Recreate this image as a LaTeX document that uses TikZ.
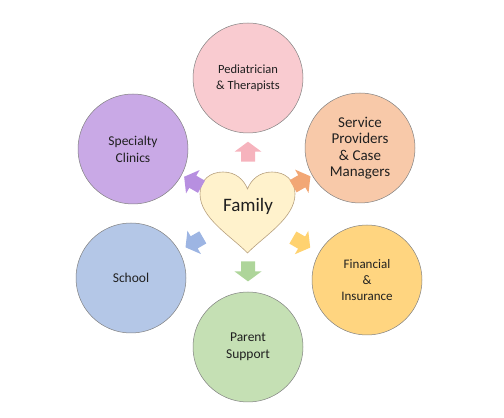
\documentclass[tikz,border=0pt]{standalone}
\usepackage{fontspec}
\setmainfont{Carlito}
\usetikzlibrary{calc,positioning}
\definecolor{pedfill}{HTML}{F9CBD0}
\definecolor{pedarrow}{HTML}{F6B3BD}
\definecolor{servfill}{HTML}{F8C9A9}
\definecolor{servarrow}{HTML}{F2A775}
\definecolor{finfill}{HTML}{FFD580}
\definecolor{finarrow}{HTML}{FFD270}
\definecolor{parfill}{HTML}{C5E0B4}
\definecolor{pararrow}{HTML}{AED59A}
\definecolor{schfill}{HTML}{B4C7E7}
\definecolor{scharrow}{HTML}{9DB5E3}
\definecolor{specfill}{HTML}{C9A9E6}
\definecolor{specarrow}{HTML}{B78FE0}
\definecolor{heartfill}{HTML}{FFF2CC}
\definecolor{heartline}{HTML}{B7A07E}
\definecolor{txt}{HTML}{202020}

\tikzset{
  blockarrow/.pic={\path[pic actions] (-10,-7) -- (0,-7) -- (0,-13.5) -- (10,0) -- (0,13.5) -- (0,7) -- (-10,7) -- cycle;},
}

\begin{document}
\begin{tikzpicture}[x=1pt,y=1pt,
  ring/.style={circle,minimum size=110pt,inner sep=0pt,draw=black!50,line width=0.5pt,
    align=center,text=txt,font=\fontsize{13.5}{17}\selectfont}]
  \useasboundingbox (0,0) rectangle (504,418);
  \coordinate (C) at (248,206);
  % heart in the middle
  \draw[fill=heartfill,draw=heartline,line width=0.6pt]
    (247.5,165) .. controls (231,182) and (200,200) .. (200,224)
    .. controls (200,238) and (210,246) .. (223,246)
    .. controls (236,246) and (244,238) .. (247.5,229)
    .. controls (251,238) and (259,246) .. (272,246)
    .. controls (285,246) and (295,238) .. (295,224)
    .. controls (295,200) and (264,182) .. (247.5,165) -- cycle;
  \node[text=txt,font=\fontsize{19}{22}\selectfont] (family) at (248,212) {Family};
  % the six circles
  \node[ring,fill=pedfill,font=\fontsize{12.5}{16.5}\selectfont] (ped) at (248,340) {Pediatrician\\\& Therapists};
  \node[ring,fill=servfill,font=\fontsize{15}{16.5}\selectfont] (serv) at (360,270) {Service\\Providers\\\& Case\\Managers};
  \node[ring,fill=finfill,font=\fontsize{13}{16}\selectfont] (fin) at (367,138) {Financial\\\&\\Insurance};
  \node[ring,fill=parfill] (par) at (248,71) {Parent\\Support};
  \node[ring,fill=schfill] (sch) at (131,140) {School};
  \node[ring,fill=specfill] (spec) at (133,269) {Specialty\\Clinics};
  % arrows out of the heart
  \pic[fill=pedarrow,rotate=90] at ($(C)!0.45!(ped)$) {blockarrow};
  \pic[fill=servarrow,rotate=30] at ($(C)!0.48!(serv)$) {blockarrow};
  \pic[fill=finarrow,rotate=-30] at ($(C)!0.45!(fin)$) {blockarrow};
  \pic[fill=pararrow,rotate=-90] at ($(C)!0.44!(par)$) {blockarrow};
  \pic[fill=scharrow,rotate=210] at ($(C)!0.46!(sch)$) {blockarrow};
  \pic[fill=specarrow,rotate=150] at ($(C)!0.48!(spec)$) {blockarrow};
\end{tikzpicture}
\end{document}
